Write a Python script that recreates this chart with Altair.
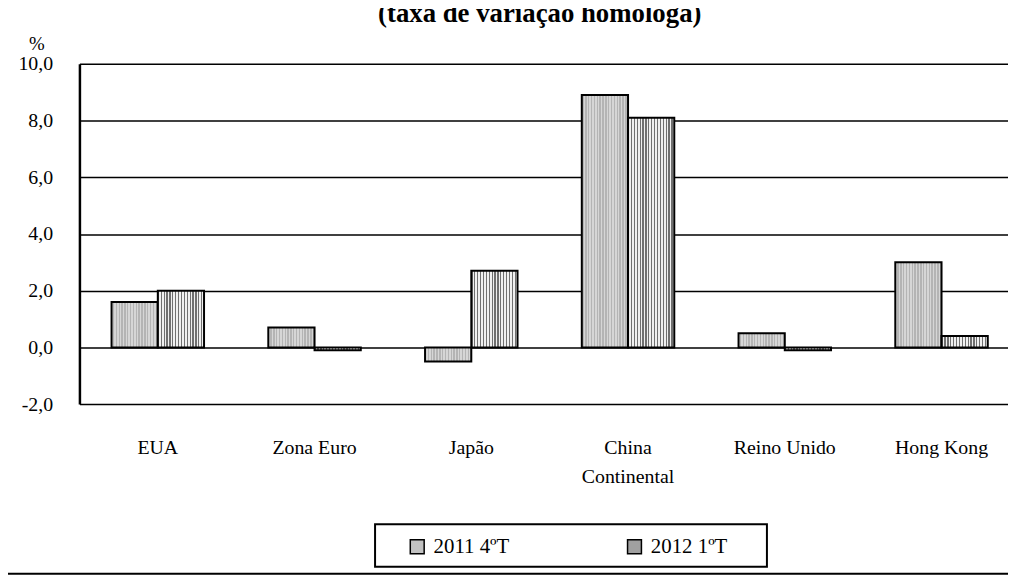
import altair as alt
import pandas as pd

categories = ["EUA", "Zona Euro", "Japão", "China Continental", "Reino Unido", "Hong Kong"]
series = ["2011 4ºT", "2012 1ºT"]
values_2011q4 = [1.6, 0.7, -0.5, 8.9, 0.5, 3.0]
values_2012q1 = [2.0, -0.1, 2.7, 8.1, -0.1, 0.4]
y_ticks = [-2, 0, 2, 4, 6, 8, 10]
title_text = "(taxa de variação homóloga)"
unit_text = "%"

rows = []
for c, a, b in zip(categories, values_2011q4, values_2012q1):
    rows.append({"cat": c, "serie": series[0], "v": a})
    rows.append({"cat": c, "serie": series[1], "v": b})
df = pd.DataFrame(rows)

FONT = "Liberation Serif"


def stripes(n, dark, light, frac):
    stops = []
    for i in range(n):
        a = i / n
        b = (i + frac) / n
        c = (i + 1) / n
        stops += [
            {"offset": a, "color": dark},
            {"offset": b, "color": dark},
            {"offset": b, "color": light},
            {"offset": c, "color": light},
        ]
    return {"gradient": "linear", "x1": 0, "y1": 0, "x2": 1, "y2": 0, "stops": stops}


fill_dots = stripes(30, "#b4b4b4", "#d6d6d6", 0.5)
fill_lines = stripes(16, "#707070", "#f0f0f0", 0.42)

x_enc = alt.X(
    "cat:N",
    sort=categories,
    scale=alt.Scale(range=[0, 948], paddingInner=0.41, paddingOuter=0.205),
    axis=alt.Axis(
        title=None,
        domain=False,
        ticks=False,
        grid=False,
        labelAngle=0,
        labelFont=FONT,
        labelFontSize=20,
        labelColor="black",
        labelPadding=34,
        labelBaseline="top",
        labelLineHeight=29,
        labelExpr="datum.label == 'China Continental' ? ['China', 'Continental'] : datum.label",
    ),
)
xo_enc = alt.XOffset("serie:N", sort=series, scale=alt.Scale(paddingInner=0, paddingOuter=0))
y_enc = alt.Y(
    "v:Q",
    scale=alt.Scale(domain=[-2, 10], nice=False),
    axis=alt.Axis(
        title=None,
        values=y_ticks,
        labelExpr="(datum.value < 0 ? '-' : '') + replace(format(abs(datum.value), '.1f'), '.', ',')",
        grid=True,
        gridColor="black",
        gridWidth=1.5,
        gridOpacity=1,
        domainColor="black",
        domainWidth=2.5,
        ticks=False,
        labelPadding=27,
        labelFont=FONT,
        labelFontSize=20,
        labelColor="black",
    ),
)

base = alt.Chart(df)

bars1 = base.transform_filter(alt.datum.serie == series[0]).mark_bar(
    fill=fill_dots, stroke="black", strokeWidth=2
).encode(x=x_enc, xOffset=xo_enc, y=y_enc)

bars2 = base.transform_filter(alt.datum.serie == series[1]).mark_bar(
    fill=fill_lines, stroke="black", strokeWidth=2
).encode(x=x_enc, xOffset=xo_enc, y=y_enc)

legend_layer = base.mark_bar(opacity=0).encode(
    x=x_enc,
    xOffset=xo_enc,
    y=y_enc,
    fill=alt.Fill(
        "serie:N",
        sort=series,
        scale=alt.Scale(domain=series, range=["#c2c2c2", "#a0a0a0"]),
        legend=alt.Legend(
            title=None,
            orient="none",
            legendX=330,
            legendY=476,
            direction="horizontal",
            columnPadding=115,
            symbolType="square",
            symbolSize=196,
            symbolStrokeColor="black",
            symbolStrokeWidth=1.5,
            symbolOpacity=1,
            labelFont=FONT,
            labelFontSize=21,
            labelColor="black",
            labelOffset=6,
            padding=0,
        ),
    ),
)

one = pd.DataFrame({"t": [title_text], "u": [unit_text]})

title_mark = alt.Chart(one).mark_text(
    font=FONT, fontSize=27, fontWeight="bold", color="black", baseline="alphabetic", align="center"
).encode(text="t:N", x=alt.value(464), y=alt.value(-42))

unit_mark = alt.Chart(one).mark_text(
    font=FONT, fontSize=19, color="black", baseline="middle", align="center"
).encode(text="u:N", x=alt.value(-43), y=alt.value(-20))

legend_box = alt.Chart(one).mark_rect(fill="white", fillOpacity=0, stroke="black", strokeWidth=2).encode(
    x=alt.value(298), x2=alt.value(693), y=alt.value(464), y2=alt.value(507)
)

bottom_rule = alt.Chart(one).mark_rule(color="black", strokeWidth=2).encode(
    x=alt.value(-72), x2=alt.value(936), y=alt.value(514)
)

chart = (
    alt.layer(legend_box, bars1, bars2, legend_layer, title_mark, unit_mark, bottom_rule)
    .properties(
        width=936,
        height=343,
        autosize=alt.AutoSizeParams(type="none"),
        padding={"left": 72, "top": 54, "right": 0, "bottom": 174},
        background="white",
    )
    .configure_view(stroke=None)
)

chart.save("out.html", embed_options={"renderer": "svg", "actions": False})
